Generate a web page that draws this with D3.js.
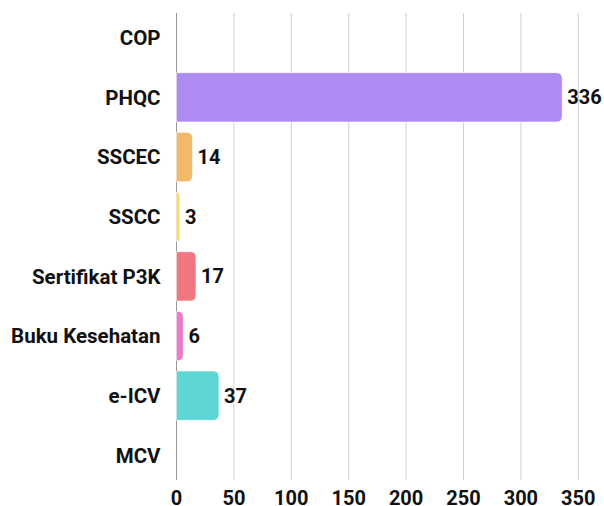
<!DOCTYPE html>
<html>
<head>
<meta charset="utf-8">
<script src="https://cdn.jsdelivr.net/npm/d3@7.9.0/dist/d3.min.js"></script>
<style>
  body { margin: 0; background: #fff; }
  text { font-family: Roboto, sans-serif; font-weight: 700; fill: #111; }
</style>
</head>
<body>
<svg id="chart" width="604" height="506"></svg>
<script>
const categories = ['COP', 'PHQC', 'SSCEC', 'SSCC', 'Sertifikat P3K', 'Buku Kesehatan', 'e-ICV', 'MCV'];
const values = [0, 336, 14, 3, 17, 6, 37, 0];
const colors = ['#ae8bf3', '#ae8bf3', '#f3b96b', '#fddd5c', '#f0767f', '#e97bc9', '#5ed6d5', '#5ed6d5'];
const ticks = [0, 50, 100, 150, 200, 250, 300, 350];

const margin = { top: 13, right: 26, bottom: 26, left: 176.5 };
const height = 506 - margin.top - margin.bottom;

const svg = d3.select('#chart');
const g = svg.append('g').attr('transform', `translate(${margin.left},${margin.top})`);

const x = d3.scaleLinear().domain([0, 350]).range([0, 401.8]);
const y = d3.scaleBand().domain(categories).range([0, height]).paddingInner(0.173).paddingOuter(0);

// grid
g.selectAll('.grid').data(ticks.slice(1)).join('line')
  .attr('x1', d => x(d)).attr('x2', d => x(d))
  .attr('y1', 0).attr('y2', height)
  .attr('stroke', '#d0d0d0').attr('stroke-width', 1);

g.append('line')
  .attr('x1', 0).attr('x2', 0).attr('y1', 0).attr('y2', height)
  .attr('stroke', '#999').attr('stroke-width', 1);

// bars, rounded right end
const r = 6;
const data = categories.map((c, i) => ({ c, v: values[i], color: colors[i] }));
g.selectAll('.bar').data(data.filter(d => d.v > 0)).join('path')
  .attr('fill', d => d.color)
  .attr('stroke', '#fff').attr('stroke-width', 0.6)
  .attr('d', d => {
    const w = x(d.v), h = y.bandwidth(), y0 = y(d.c);
    const rr = Math.min(r, w);
    return `M0,${y0}H${w - rr}Q${w},${y0} ${w},${y0 + rr}V${y0 + h - rr}Q${w},${y0 + h} ${w - rr},${y0 + h}H0Z`;
  });

// value labels
g.selectAll('.val').data(data.filter(d => d.v > 0)).join('text')
  .attr('x', d => x(d.v) + 5)
  .attr('y', d => y(d.c) + y.bandwidth() / 2)
  .attr('dy', '0.35em')
  .attr('font-size', 20)
  .text(d => d.v);

// category labels
g.selectAll('.cat').data(categories).join('text')
  .attr('x', -16)
  .attr('y', d => y(d) + y.bandwidth() / 2)
  .attr('dy', '0.35em')
  .attr('text-anchor', 'end')
  .attr('font-size', 20.5)
  .text(d => d);

// x tick labels
g.selectAll('.tick').data(ticks).join('text')
  .attr('x', d => x(d))
  .attr('y', height + 24.5)
  .attr('text-anchor', 'middle')
  .attr('font-size', 20)
  .text(d => d);
</script>
</body>
</html>
